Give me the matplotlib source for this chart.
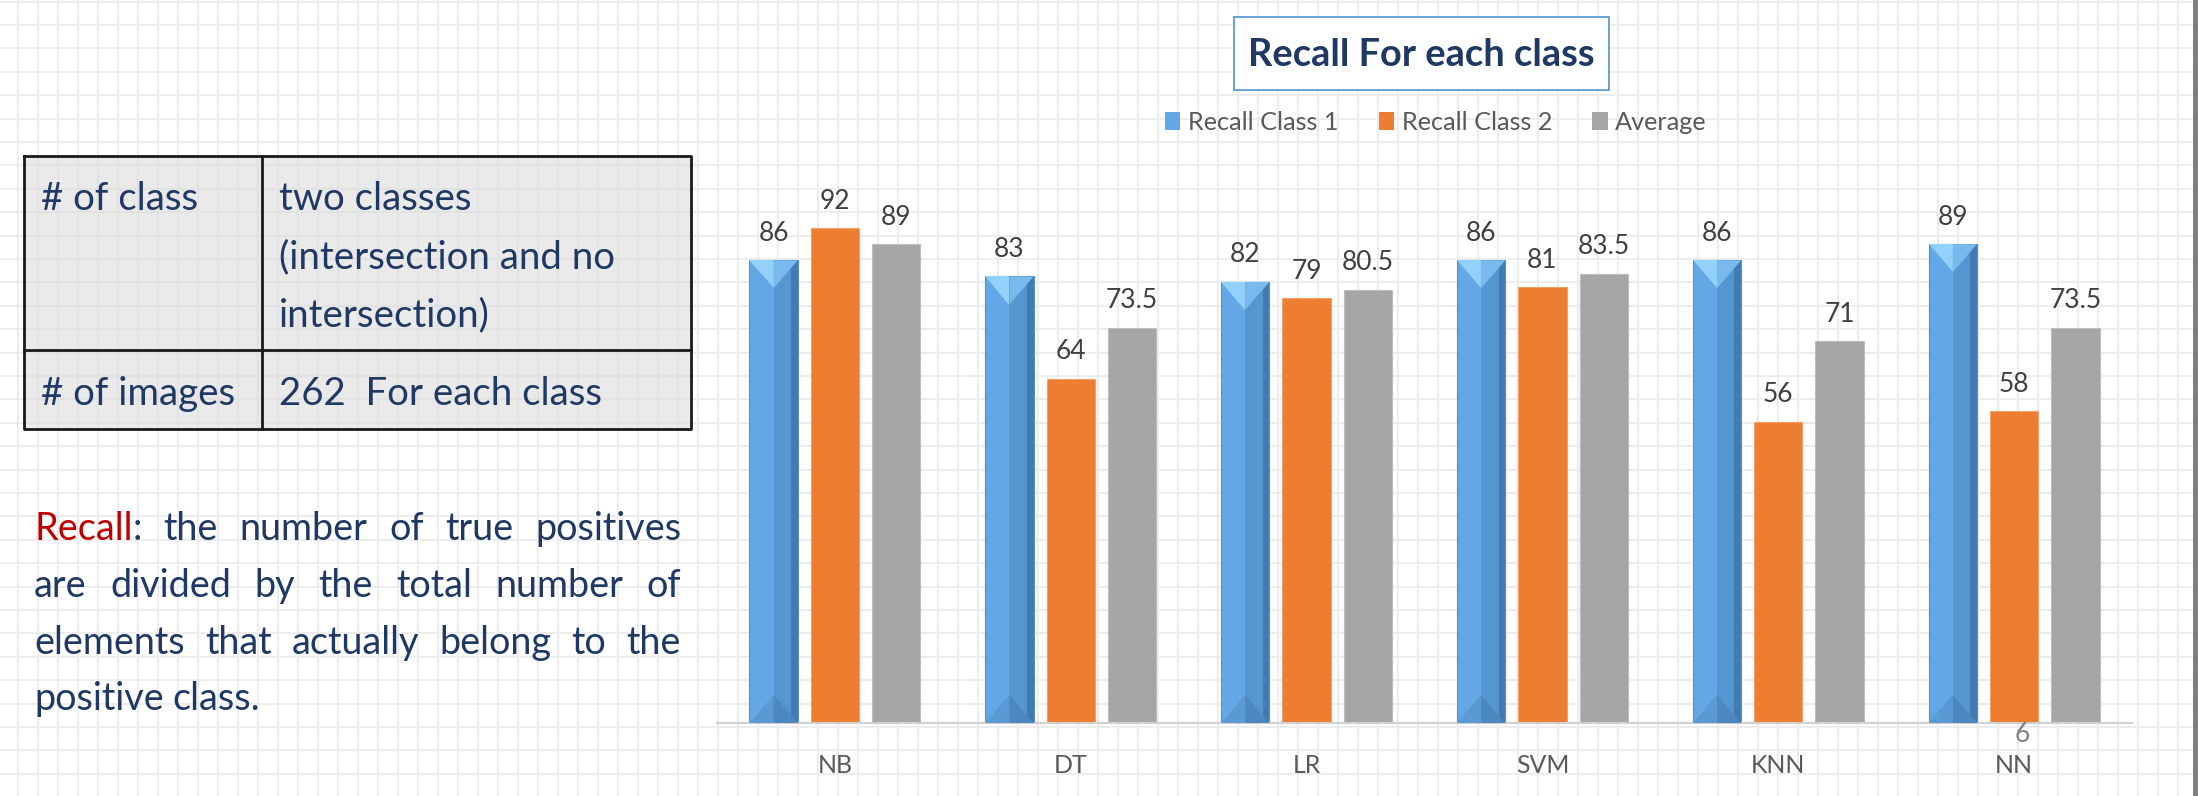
import numpy as np
import matplotlib
matplotlib.use('Agg')
import matplotlib.pyplot as plt
from matplotlib.patches import Rectangle, Polygon, Patch

plt.rcParams['font.family'] = ['Lato', 'DejaVu Sans']

# ---------------------------------------------------------------------------
# Data
# ---------------------------------------------------------------------------
MODELS    = ['NB', 'DT', 'LR', 'SVM', 'KNN', 'NN']
RECALL_C1 = [86, 83, 82, 86, 86, 89]
RECALL_C2 = [92, 64, 79, 81, 56, 58]
AVERAGE   = [89, 73.5, 80.5, 83.5, 71, 73.5]
SERIES    = ['Recall Class 1', 'Recall Class 2', 'Average']

TABLE_LEFT  = [['# of class'], ['# of images']]
TABLE_RIGHT = [['two classes', '(intersection and no', 'intersection)'],
               ['262  For each class']]

NAVY = '#1F3864'
RED  = '#C00000'
DEFINITION = [
    [[('Recall', RED), (':', NAVY)], 'the', 'number', 'of', 'true', 'positives'],
    ['are', 'divided', 'by', 'the', 'total', 'number', 'of'],
    ['elements', 'that', 'actually', 'belong', 'to', 'the'],
    ['positive', 'class.'],
]

COLORS = ['#63A7E6', '#ED7D31', '#A5A5A5']
EDGES  = ['#5590c8', '#F3A06A', '#BDBDBD']

W, H = 2198, 796
fig = plt.figure(figsize=(W / 100, H / 100), dpi=100)
renderer = fig.canvas.get_renderer()


def fit_size(text, target_px, weight='normal'):
    """font size (pt) that makes `text` about target_px wide"""
    t = fig.text(0, 0, text, fontsize=10, fontweight=weight)
    wpx = t.get_window_extent(renderer).width
    t.remove()
    return 10 * target_px / wpx


# background "graph paper" layer in pixel coordinates
bg = fig.add_axes([0, 0, 1, 1])
bg.set_xlim(0, W)
bg.set_ylim(H, 0)
bg.axis('off')
for gx in np.arange(-1.7, W, 20.0):
    bg.axvline(gx, color='#ededed', lw=1.5, zorder=0)
for gy in np.arange(1.6, H, 23.4):
    bg.axhline(gy, color='#ededed', lw=1.5, zorder=0)
bg.add_patch(Rectangle((2193, 0), 5, H, fc='#7f7f7f', ec='none', zorder=5))

# ---------------------------------------------------------------------------
# Info table (left)
# ---------------------------------------------------------------------------
tl, tr, tt, tb, tdiv, trow = 24, 691, 156, 429, 262, 350
bg.add_patch(Rectangle((tl, tt), tr - tl, tb - tt, fc='#d9d9d9', alpha=0.55,
                       ec='none', zorder=1))
for xs, ys in [([tl, tr, tr, tl, tl], [tt, tt, tb, tb, tt]),
               ([tdiv, tdiv], [tt, tb]), ([tl, tr], [trow, trow])]:
    bg.plot(xs, ys, color='#1a1a1a', lw=2.0, zorder=3, solid_capstyle='projecting')

TABLE_FS = fit_size('(intersection and no', 337)
row_baselines = [[210, 268, 326], [405]]
for lines_l, lines_r, bases in zip(TABLE_LEFT, TABLE_RIGHT, row_baselines):
    for txt, yb in zip(lines_l, bases):
        bg.text(41, yb, txt, fontsize=TABLE_FS, color=NAVY, va='baseline', zorder=4)
    for txt, yb in zip(lines_r, bases):
        bg.text(279, yb, txt, fontsize=TABLE_FS, color=NAVY, va='baseline', zorder=4)

# ---------------------------------------------------------------------------
# Justified definition paragraph
# ---------------------------------------------------------------------------
PARA_FS = fit_size('positive class.', 227)


def put_line(tokens, x0, x1, y, justify=True):
    words = []
    for tok in tokens:
        pieces = tok if isinstance(tok, list) else [(tok, NAVY)]
        words.append([bg.text(0, y, s, fontsize=PARA_FS, color=c, va='baseline', zorder=4)
                      for s, c in pieces])
    widths = [[t.get_window_extent(renderer).width for t in w] for w in words]
    total = sum(sum(w) for w in widths)
    space = PARA_FS * 0.3
    gap = max((x1 - x0 - total) / (len(words) - 1), space) if justify else space
    x = x0
    for parts, ws in zip(words, widths):
        for t, wd in zip(parts, ws):
            t.set_x(x)
            x += wd
        x += gap


para_baselines = [540, 597, 654, 710]
for i, (line, yb) in enumerate(zip(DEFINITION, para_baselines)):
    put_line(line, 34, 681, yb, justify=(i < len(DEFINITION) - 1))

# ---------------------------------------------------------------------------
# Title + legend
# ---------------------------------------------------------------------------
TITLE = 'Recall For each class'
bg.add_patch(Rectangle((1234, 17), 375, 73, fc='white', ec='#5B9BD5', lw=1.3, zorder=3))
bg.text(1421, 55, TITLE, ha='center', va='center',
        fontsize=fit_size(TITLE, 348, 'bold'),
        fontweight='bold', color=NAVY, zorder=4)

# ---------------------------------------------------------------------------
# Bar chart
# ---------------------------------------------------------------------------
ax_left, ax_right, ax_base, ax_top = 717, 2132, 723, 185
ax = fig.add_axes([ax_left / W, (H - ax_base) / H,
                   (ax_right - ax_left) / W, (ax_base - ax_top) / H])
ax.set_facecolor('none')
ax.set_xlim(-0.5, len(MODELS) - 0.5)
ax.set_ylim(0, 100)

x = np.arange(len(MODELS))
offsets = [-0.26, 0.0, 0.26]
bw = 0.205
containers = []
for vals, off, col, ec in zip([RECALL_C1, RECALL_C2, AVERAGE], offsets, COLORS, EDGES):
    containers.append(ax.bar(x + off, vals, bw, color=col, edgecolor=ec,
                             linewidth=0.8, zorder=2))

# bevelled look for the class-1 bars
px_x = (ax_right - ax_left) / len(MODELS)
px_y = (ax_base - ax_top) / 100.0
for rect in containers[0]:
    x0, w, h = rect.get_x(), rect.get_width(), rect.get_height()
    d = 0.58 * w * px_x / px_y
    ax.add_patch(Rectangle((x0 + 0.5 * w, 0), 0.5 * w, h, fc='#5696d0', ec='none', zorder=3))
    ax.add_patch(Rectangle((x0 + 0.86 * w, 0), 0.14 * w, h, fc='#417bb2', ec='none', zorder=3))
    ax.add_patch(Polygon([(x0, 0), (x0 + w / 2, d), (x0 + w / 2, 0)], fc='#5b99d4', ec='none', zorder=3))
    ax.add_patch(Polygon([(x0 + w / 2, 0), (x0 + w / 2, d), (x0 + w, 0)], fc='#4c87c0', ec='none', zorder=3))
    ax.add_patch(Polygon([(x0, h), (x0 + w / 2, h), (x0 + w / 2, h - d)], fc='#93d0fa', ec='none', zorder=3))
    ax.add_patch(Polygon([(x0 + w / 2, h), (x0 + w, h), (x0 + w / 2, h - d)], fc='#7ab9ee', ec='none', zorder=3))

LABEL_FS = fit_size('80.5', 52)
for cont in containers:
    for rect in cont:
        v = rect.get_height()
        ax.annotate(f'{v:g}', (rect.get_x() + rect.get_width() / 2, v),
                    xytext=(0, 14), textcoords='offset points', ha='center',
                    va='baseline', fontsize=LABEL_FS, color='#404040', zorder=5)

# stray label under the NN group
ax.annotate('6', (x[-1], 0), xytext=(6, -14), textcoords='offset points',
            ha='center', va='baseline', fontsize=LABEL_FS, color='#808080',
            annotation_clip=False)

ax.set_xticks(x)
ax.set_xticklabels(MODELS)
ax.tick_params(axis='x', length=0, pad=22, labelsize=fit_size('NB', 35),
               labelcolor='#595959')
ax.set_yticks([])
for s in ['top', 'right', 'left']:
    ax.spines[s].set_visible(False)
ax.spines['bottom'].set_color('#d0d0d0')
ax.spines['bottom'].set_linewidth(1.5)

handles = [Patch(facecolor=c) for c in COLORS]
fig.legend(handles, SERIES, loc='center', bbox_to_anchor=(1436 / W, 1 - 122 / H),
           ncol=3, frameon=False, fontsize=fit_size('Recall Class 1', 150),
           handlelength=0.6, handleheight=0.7, handletextpad=0.3,
           columnspacing=1.6, labelcolor='#595959')

fig.savefig('out.png', dpi=100)
